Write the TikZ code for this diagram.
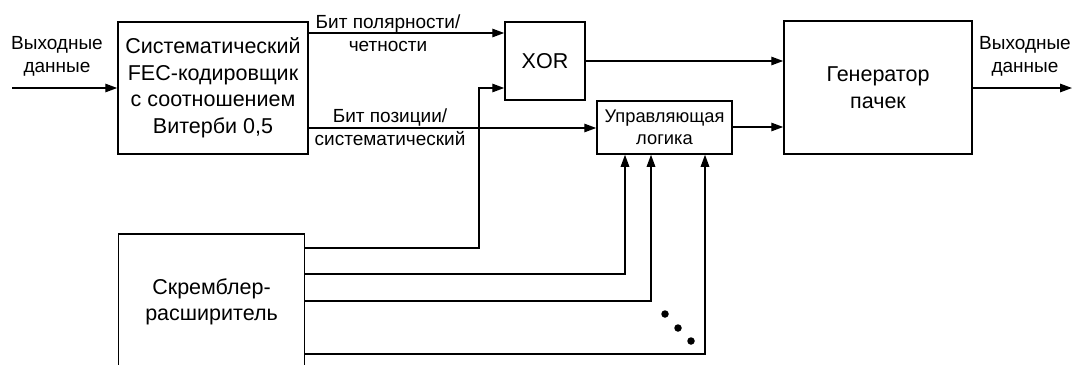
\documentclass[tikz,border=0pt]{standalone}
\usepackage{fontspec}
\setmainfont{Liberation Sans}
\usetikzlibrary{arrows.meta,calc}
\begin{document}
\begin{tikzpicture}[x=1pt,y=-1pt,
  box/.style={draw,line width=1.5pt,rectangle,inner sep=0pt,align=center,
    font=\fontsize{21.5}{26.5}\selectfont},
  lbl/.style={align=center,inner sep=0pt,font=\fontsize{19}{23}\selectfont},
  arr/.style={line width=1.4pt,-{Triangle[length=12pt,width=8.5pt]}},
  dot/.style={fill=black,circle,inner sep=0pt,minimum size=7.5pt}]
\useasboundingbox (0,0) rectangle (1073,364);
\node[box,minimum width=190pt,minimum height=132pt] (fec) at (213,88)
  {Систематический\\FEC-кодировщик\\с соотношением\\Витерби 0,5};
\node[box,minimum width=80pt,minimum height=78pt] (xor) at (545,61) {XOR};
\node[box,minimum width=188pt,minimum height=133pt] (gen) at (878,87.5) {Генератор\\пачек};
\node[box,minimum width=135pt,minimum height=53pt,font=\fontsize{18.3}{22.5}\selectfont] (ctrl) at (664.5,127.5) {Управляющая\\логика};
\node[box,minimum width=186pt,minimum height=136pt] (scr) at (211.5,302) {Скремблер-\\расширитель};
\coordinate (in) at (12,88);
\coordinate (out) at (1072,88);
\node[lbl] (inl) at (57,56) {Выходные\\данные};
\node[lbl] (outl) at (1025,56) {Выходные\\данные};
\node[lbl] (l1) at (388,33.5) {Бит полярности/\\четности};
\node[lbl] (l2) at (390,127.5) {Бит позиции/\\систематический};
\draw[arr] (in) -- (fec.west |- in);
\draw[arr] (fec.east |- 0,33) -- (xor.west |- 0,33);
\draw[arr] (fec.east |- 0,128) -- (ctrl.west |- 0,128);
\draw[arr] (xor.east |- 0,61) -- (gen.west |- 0,61);
\draw[arr] (ctrl.east |- 0,127) -- (gen.west |- 0,127);
\draw[arr] (gen.east |- out) -- (out);
\draw[arr] (scr.east |- 0,248) -| (479,88) -- (xor.west |- 0,88);
\draw[arr] (scr.east |- 0,274) -| (ctrl.south -| 625,0);
\draw[arr] (scr.east |- 0,301) -| (ctrl.south -| 651,0);
\draw[arr] (scr.east |- 0,354) -| (ctrl.south -| 705,0);
\node[dot] (d1) at (665,314) {};
\node[dot] (d2) at (678,328) {};
\node[dot] (d3) at (691,341) {};
\end{tikzpicture}
\end{document}
